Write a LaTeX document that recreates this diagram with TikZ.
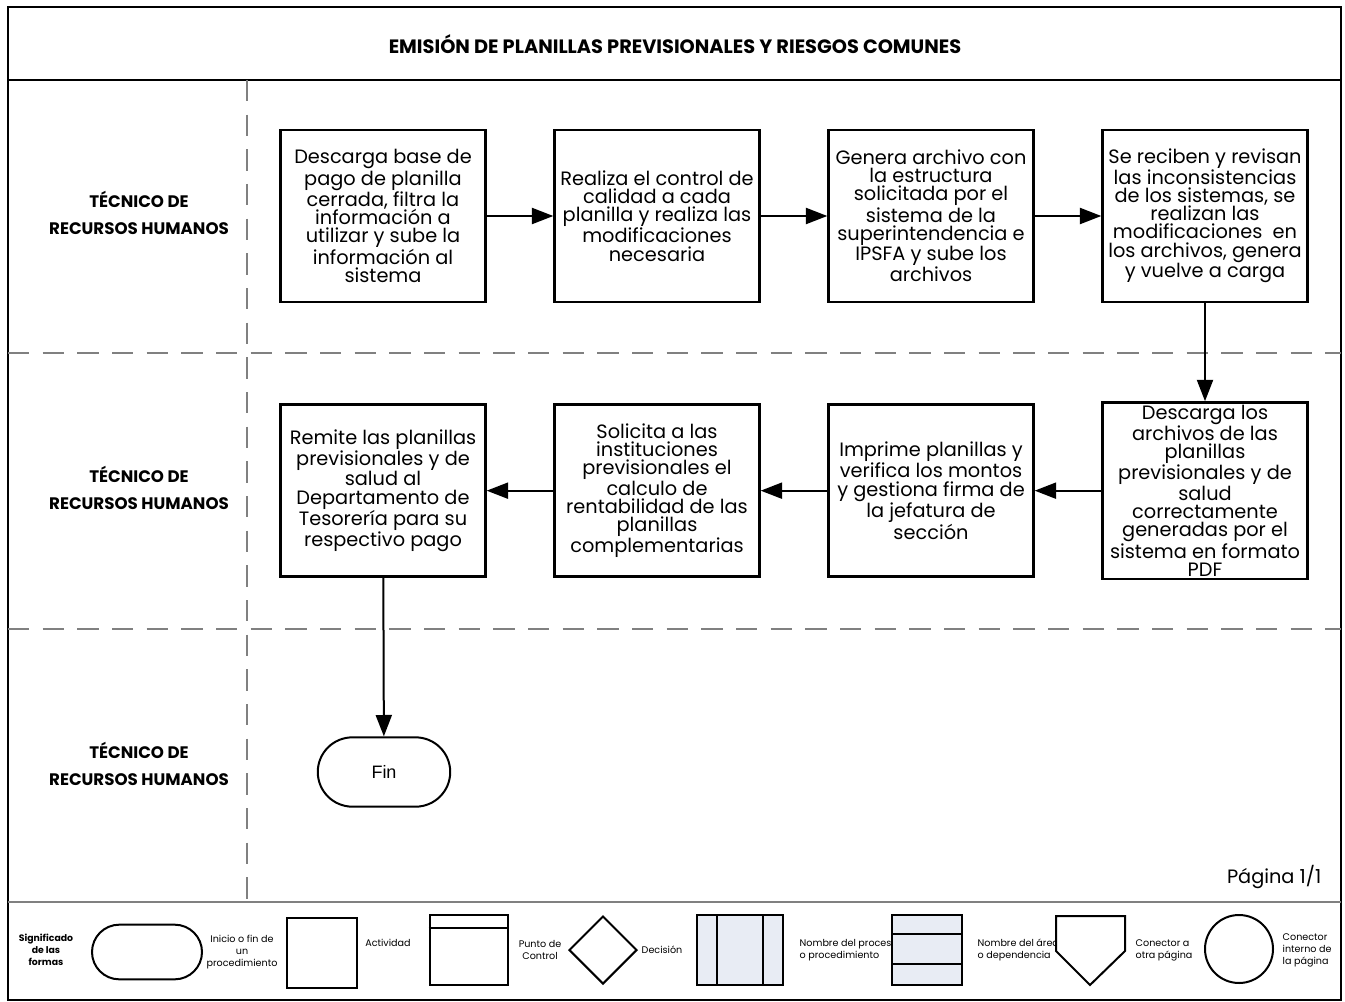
\documentclass[tikz,border=0pt]{standalone}
\usepackage{fontspec}
\setmainfont{Poppins}
\newfontfamily\arialfont{Liberation Sans}
\usepackage{xcolor}
\usetikzlibrary{arrows.meta, positioning, shapes.geometric, shapes.misc}

\definecolor{lanegray}{RGB}{128,128,128}
\definecolor{legendfill}{RGB}{232,236,244}

\begin{document}
\begin{tikzpicture}[x=0.75pt,y=-0.75pt,node distance=205.5pt,on grid]
    \tikzstyle{activity}=[shape=rectangle,draw,line width=1.8pt,minimum width=153.75pt,minimum height=129pt,align=center,inner sep=2pt,font=\fontsize{14.5}{13.6}\selectfont]
    \tikzstyle{terminal}=[shape=rounded rectangle,draw,line width=1.5pt,minimum width=106pt,minimum height=52pt,font=\arialfont\fontsize{13.5}{13.5}\selectfont]
    \tikzstyle{lane}=[align=center,font=\bfseries\fontsize{12.5}{20}\selectfont]
    \tikzstyle{divider}=[draw=lanegray,line width=1.8pt,dash pattern=on 16pt off 10pt]
    \tikzstyle{flow}=[draw,line width=1.5pt,-{Triangle[length=16pt,width=12pt]}]
    \tikzstyle{legendshape}=[draw,line width=1.5pt,inner sep=0pt]
    \tikzstyle{legendtext}=[align=center,font=\fontsize{7.2}{9}\selectfont]

    \useasboundingbox (0,0) rectangle (1345,1002);

    % frame, title and lanes
    \draw[line width=2.2pt] (8,7) rectangle (1341,1000);
    \draw[line width=2.2pt] (8,80) -- (1341,80);
    \node[font=\bfseries\fontsize{14.5}{16}\selectfont] (title) at (675,44) {EMISIÓN DE PLANILLAS PREVISIONALES Y RIESGOS COMUNES};
    \draw[divider] (247,80) -- (247,902);
    \draw[divider] (8,353) -- (1341,353);
    \draw[divider] (8,629) -- (1341,629);
    \draw[draw=lanegray,line width=1.8pt] (8,902) -- (1341,902);

    \node[lane] (L1) at (139,213) {TÉCNICO DE\\RECURSOS HUMANOS};
    \node[lane] (L2) at (139,488) {TÉCNICO DE\\RECURSOS HUMANOS};
    \node[lane] (L3) at (139,764) {TÉCNICO DE\\RECURSOS HUMANOS};

    % activities
    \node[activity] (A1) at (383,216) {Descarga base de\\pago de planilla\\cerrada, filtra la\\información a\\utilizar y sube la\\información al\\sistema};
    \node[activity, right=of A1] (A2) {Realiza el control de\\calidad a cada\\planilla y realiza las\\modificaciones\\necesaria};
    \node[activity, right=of A2] (A3) {Genera archivo con\\la estructura\\solicitada por el\\sistema de la\\superintendencia e\\IPSFA y sube los\\archivos};
    \node[activity, right=of A3] (A4) {Se reciben y revisan\\las inconsistencias\\de los sistemas, se\\realizan las\\modificaciones\ \ en\\los archivos, genera\\y vuelve a carga};
    \node[activity, below=206pt of A4] (B4) {Descarga los\\archivos de las\\planillas\\previsionales y de\\salud\\correctamente\\generadas por el\\sistema en formato\\PDF};
    \node[activity, left=of B4] (B3) {Imprime planillas y\\verifica los montos\\y gestiona firma de\\la jefatura de\\sección};
    \node[activity, left=of B3] (B2) {Solicita a las\\instituciones\\previsionales el\\calculo de\\rentabilidad de las\\planillas\\complementarias};
    \node[activity, left=of B2] (B1) {Remite las planillas\\previsionales y de\\salud al\\Departamento de\\Tesorería para su\\respectivo pago};
    \node[terminal] (F) at (384,772) {Fin};

    \path[flow]
    (A1) edge (A2)
    (A2) edge (A3)
    (A3) edge (A4)
    (A4) edge (B4)
    (B4) edge (B3)
    (B3) edge (B2)
    (B2) edge (B1)
    (B1) edge (F)
    ;

    \node[anchor=east,font=\fontsize{14.5}{16}\selectfont] (page) at (1326,877) {Página 1/1};

    % legend
    \node[legendtext,font=\bfseries\fontsize{7}{9}\selectfont] (sig) at (46,950) {Significado\\de las\\formas};
    \node[legendshape,shape=rounded rectangle,minimum width=82.5pt,minimum height=41pt] (lgStart) at (147,952) {};
    \node[legendtext] (tStart) at (242,952) {Inicio o fin de\\un\\procedimiento};
    \node[legendshape,minimum width=52pt,minimum height=52pt] (lgAct) at (322,953) {};
    \node[legendtext] (tAct) at (388,943) {Actividad};
    \node[legendshape,minimum width=59pt,minimum height=52pt] (lgCtl) at (469,950) {};
    \draw[line width=1.5pt] ([yshift=-10.5pt]lgCtl.north west) -- ([yshift=-10.5pt]lgCtl.north east);
    \node[legendtext] (tCtl) at (540,950) {Punto de\\Control};
    \node[legendshape,shape=diamond,minimum width=51pt,minimum height=51pt] (lgDec) at (603,950) {};
    \node[legendtext] (tDec) at (662,950) {Decisión};
    \node[legendshape,fill=legendfill,minimum width=64.5pt,minimum height=52pt] (lgProc) at (740,950) {};
    \draw[line width=1.5pt] ([xshift=16pt]lgProc.north west) -- ([xshift=16pt]lgProc.south west);
    \draw[line width=1.5pt] ([xshift=-16pt]lgProc.north east) -- ([xshift=-16pt]lgProc.south east);
    \node[legendtext,anchor=west,align=left] (tProc) at (795,950) {Nombre del proceso\\o procedimiento};
    \node[legendshape,fill=legendfill,minimum width=52pt,minimum height=52pt] (lgArea) at (927,950) {};
    \draw[line width=1.5pt] ([yshift=-15pt]lgArea.north west) -- ([yshift=-15pt]lgArea.north east);
    \draw[line width=1.5pt] ([yshift=16.5pt]lgArea.south west) -- ([yshift=16.5pt]lgArea.south east);
    \node[legendtext,anchor=west,align=left] (tArea) at (973,950) {Nombre del área\\o dependencia};
    \coordinate (opA) at (1056,916);
    \coordinate (opB) at (1125,916);
    \coordinate (opC) at (1125,951);
    \coordinate (opD) at (1090,985);
    \coordinate (opE) at (1056,951);
    \draw[line width=1.5pt,fill=white] (opA) -- (opB) -- (opC) -- (opD) -- (opE) -- cycle;
    \node[legendtext,anchor=west,align=left] (tOff) at (1131,950) {Conector a\\otra página};
    \node[legendshape,shape=circle,minimum size=51pt] (lgCirc) at (1239,949) {};
    \node[legendtext,anchor=west,align=left] (tCirc) at (1278,950) {Conector\\interno de\\la página};
\end{tikzpicture}
\end{document}
